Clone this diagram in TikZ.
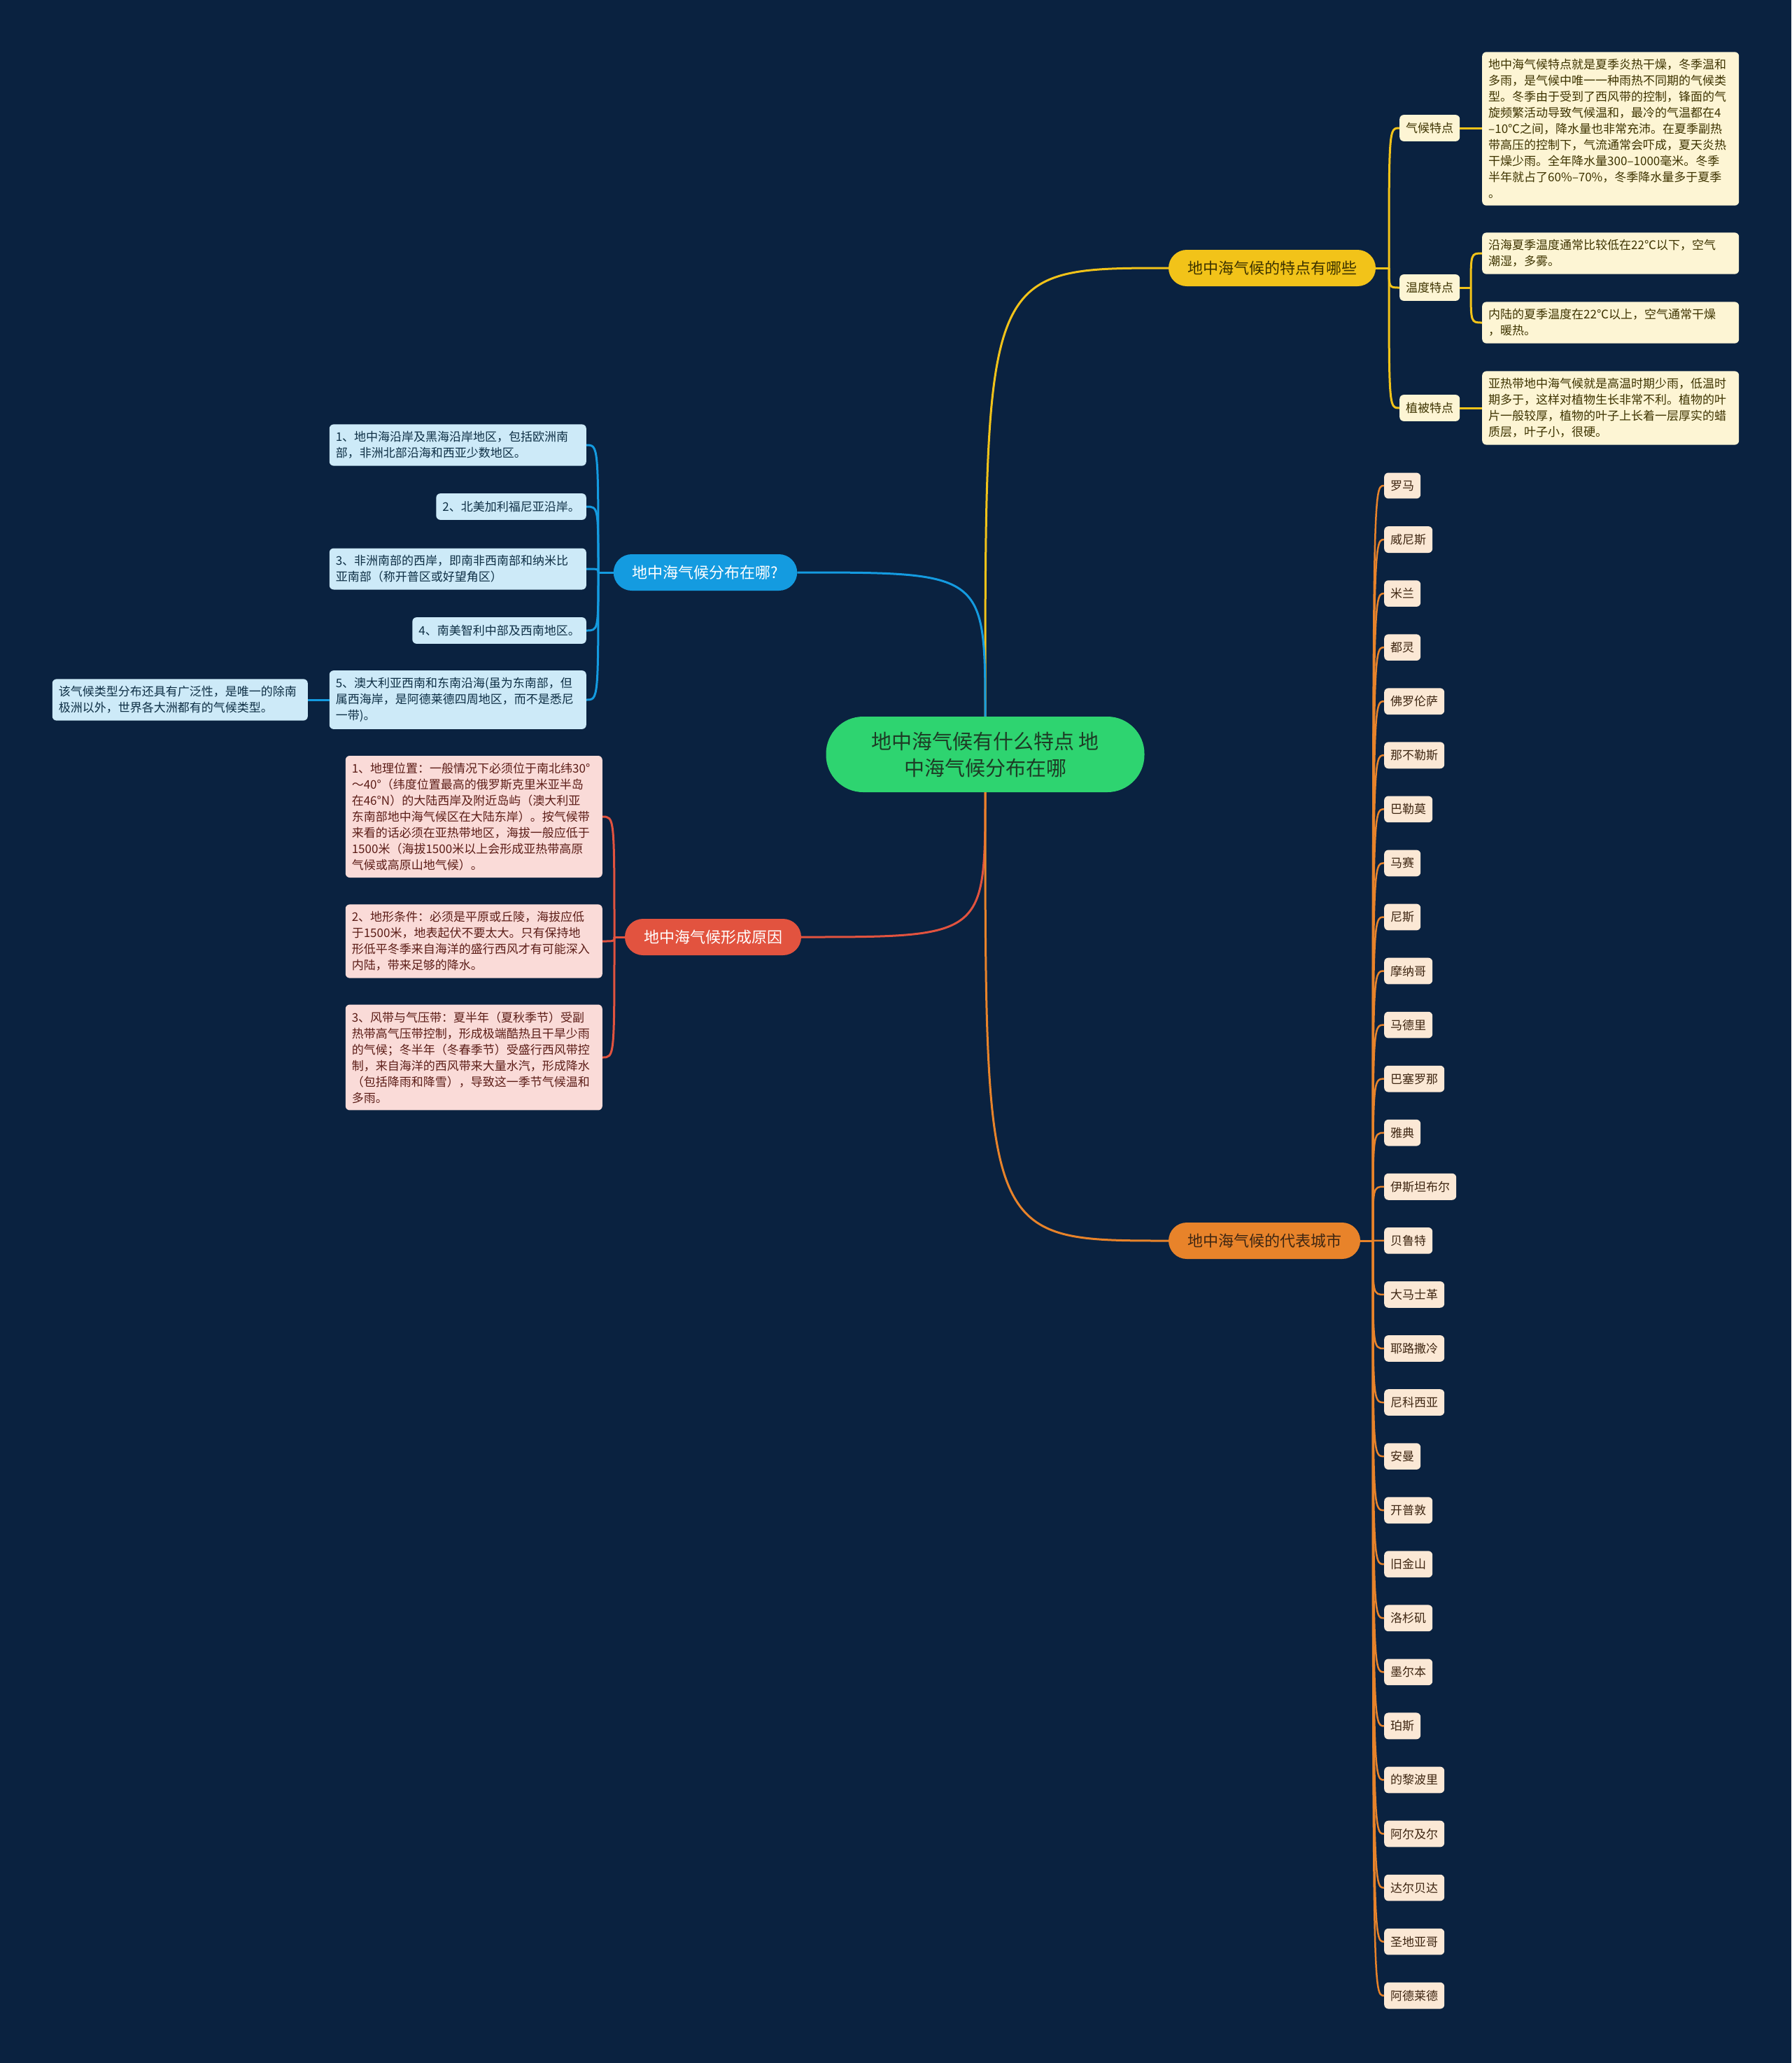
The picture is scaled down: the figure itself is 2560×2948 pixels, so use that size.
\documentclass[tikz,border=0pt]{standalone}
\usepackage{fontspec}
\usepackage{tikz}
\newfontfamily\cjk{Noto Sans CJK SC}
\definecolor{bg}{HTML}{0A2240}
\definecolor{rootbg}{HTML}{2ED470}
\definecolor{rootfg}{HTML}{1D3B25}
\definecolor{ylw}{HTML}{F2C319}
\definecolor{ylwlight}{HTML}{FDF5D4}
\definecolor{ylwtext}{HTML}{3D3300}
\definecolor{blu}{HTML}{149BE0}
\definecolor{blulight}{HTML}{CDEAF8}
\definecolor{blutext}{HTML}{0E2F45}
\definecolor{rd}{HTML}{E2533F}
\definecolor{rdlight}{HTML}{FADBD8}
\definecolor{rdtext}{HTML}{5C1D17}
\definecolor{org}{HTML}{E8832A}
\definecolor{orglight}{HTML}{FBE8D5}
\definecolor{orgtext}{HTML}{3E2612}

\begin{document}
\begin{tikzpicture}[x=1pt,y=-1pt,
  pill/.style={rounded corners=26pt,minimum height=52pt,inner xsep=27pt,font={\cjk\fontsize{22}{28}\selectfont}},
  leaf/.style={rounded corners=6pt,inner xsep=9pt,inner ysep=10pt,align=left,font={\cjk\fontsize{17}{23}\selectfont}},
  wide/.style={leaf,text width=349pt},
  tag/.style={leaf,inner ysep=11pt},
  link/.style={line width=3pt}]
\fill[bg] (0,0) rectangle (2560,2948);
\useasboundingbox (0,0) rectangle (2560,2948);

\node[fill=rootbg,text=rootfg,rounded corners=53pt,minimum width=455pt,minimum height=108pt,align=center,font={\cjk\fontsize{29}{38}\selectfont}] (root) at (1408,1078) {地中海气候有什么特点 地\\中海气候分布在哪};

% main branches
\node[pill,fill=ylw,text=ylwtext] (feat) at (1818,383) {地中海气候的特点有哪些};
\node[pill,fill=blu,text=white] (where) at (1008,818) {地中海气候分布在哪?};
\node[pill,fill=rd,text=white] (cause) at (1019,1339) {地中海气候形成原因};
\node[pill,fill=org,text=orgtext] (city) at (1807,1773) {地中海气候的代表城市};

\draw[link,ylw] (root.north) .. controls (root.north |- feat.west) .. (feat.west);
\draw[link,blu] (root.north) .. controls (root.north |- where.east) .. (where.east);
\draw[link,rd] (root.south) .. controls (root.south |- cause.east) .. (cause.east);
\draw[link,org] (root.south) .. controls (root.south |- city.west) .. (city.west);

% features
\node[tag,fill=ylwlight,text=ylwtext,anchor=west] (fclim) at (2000,183) {气候特点};
\node[tag,fill=ylwlight,text=ylwtext,anchor=west] (ftemp) at (2000,411) {温度特点};
\node[tag,fill=ylwlight,text=ylwtext,anchor=west] (fveg) at (2000,583) {植被特点};
\node[wide,fill=ylwlight,text=ylwtext,anchor=west] (fclimtxt) at (2118,184) {地中海气候特点就是夏季炎热干燥，冬季温和\\多雨，是气候中唯一一种雨热不同期的气候类\\型。冬季由于受到了西风带的控制，锋面的气\\旋频繁活动导致气候温和，最冷的气温都在4\\–10℃之间，降水量也非常充沛。在夏季副热\\带高压的控制下，气流通常会吓成，夏天炎热\\干燥少雨。全年降水量300–1000毫米。冬季\\半年就占了60\%–70\%，冬季降水量多于夏季\\。};
\node[wide,fill=ylwlight,text=ylwtext,anchor=west] (fcoast) at (2118,362) {沿海夏季温度通常比较低在22℃以下，空气\\潮湿，多雾。};
\node[wide,fill=ylwlight,text=ylwtext,anchor=west] (finland) at (2118,461) {内陆的夏季温度在22℃以上，空气通常干燥\\，暖热。};
\node[wide,fill=ylwlight,text=ylwtext,anchor=west] (fvegtxt) at (2118,583) {亚热带地中海气候就是高温时期少雨，低温时\\期多于，这样对植物生长非常不利。植物的叶\\片一般较厚，植物的叶子上长着一层厚实的蜡\\质层，叶子小，很硬。};

\coordinate (fj) at (1985,383);
\coordinate (tj) at (2102,411);
\draw[link,ylw] (feat.east) -- (fj);
\foreach \n in {fclim,ftemp,fveg}{\draw[link,ylw] (fj) .. controls (fj |- \n.west) .. (\n.west);}
\draw[link,ylw] (fclim.east) -- (fclimtxt.west |- fclim.east);
\draw[link,ylw] (fveg.east) -- (fvegtxt.west);
\draw[link,ylw] (ftemp.east) -- (tj);
\foreach \n in {fcoast,finland}{\draw[link,ylw] (tj) .. controls (tj |- \n.west) .. (\n.west);}

% distribution
\node[wide,fill=blulight,text=blutext,anchor=east] (w1) at (838,636) {1、地中海沿岸及黑海沿岸地区，包括欧洲南\\部，非洲北部沿海和西亚少数地区。};
\node[tag,fill=blulight,text=blutext,anchor=east] (w2) at (838,724) {2、北美加利福尼亚沿岸。};
\node[wide,fill=blulight,text=blutext,anchor=east] (w3) at (838,813) {3、非洲南部的西岸，即南非西南部和纳米比\\亚南部（称开普区或好望角区）};
\node[tag,fill=blulight,text=blutext,anchor=east] (w4) at (838,901) {4、南美智利中部及西南地区。};
\node[wide,fill=blulight,text=blutext,anchor=east] (w5) at (838,1000) {5、澳大利亚西南和东南沿海(虽为东南部，但\\属西海岸，是阿德莱德四周地区，而不是悉尼\\一带)。};
\node[leaf,text width=347pt,fill=blulight,text=blutext,anchor=east] (w6) at (440,1000) {该气候类型分布还具有广泛性，是唯一的除南\\极洲以外，世界各大洲都有的气候类型。};

\coordinate (wj) at (855,818);
\draw[link,blu] (where.west) -- (wj);
\foreach \n in {w1,w2,w3,w4,w5}{\draw[link,blu] (wj) .. controls (wj |- \n.east) .. (\n.east);}
\draw[link,blu] (w5.west) -- (w6.east);

% causes
\node[wide,fill=rdlight,text=rdtext,anchor=east] (c1) at (861,1167) {1、地理位置：一般情况下必须位于南北纬30°\\～40°（纬度位置最高的俄罗斯克里米亚半岛\\在46°N）的大陆西岸及附近岛屿（澳大利亚\\东南部地中海气候区在大陆东岸）。按气候带\\来看的话必须在亚热带地区，海拔一般应低于\\1500米（海拔1500米以上会形成亚热带高原\\气候或高原山地气候）。};
\node[wide,fill=rdlight,text=rdtext,anchor=east] (c2) at (861,1345) {2、地形条件：必须是平原或丘陵，海拔应低\\于1500米，地表起伏不要太大。只有保持地\\形低平冬季来自海洋的盛行西风才有可能深入\\内陆，带来足够的降水。};
\node[wide,fill=rdlight,text=rdtext,anchor=east] (c3) at (861,1511) {3、风带与气压带：夏半年（夏秋季节）受副\\热带高气压带控制，形成极端酷热且干旱少雨\\的气候；冬半年（冬春季节）受盛行西风带控\\制，来自海洋的西风带来大量水汽，形成降水\\（包括降雨和降雪），导致这一季节气候温和\\多雨。};

\coordinate (cj) at (878,1339);
\draw[link,rd] (cause.west) -- (cj);
\foreach \n in {c1,c2,c3}{\draw[link,rd] (cj) .. controls (cj |- \n.east) .. (\n.east);}

% cities
\coordinate (oj) at (1962,1773);
\draw[link,org] (city.east) -- (oj);
\foreach \name [count=\i from 0] in {罗马,威尼斯,米兰,都灵,佛罗伦萨,那不勒斯,巴勒莫,马赛,尼斯,摩纳哥,马德里,巴塞罗那,雅典,伊斯坦布尔,贝鲁特,大马士革,耶路撒冷,尼科西亚,安曼,开普敦,旧金山,洛杉矶,墨尔本,珀斯,的黎波里,阿尔及尔,达尔贝达,圣地亚哥,阿德莱德}{
  \node[tag,fill=orglight,text=orgtext,anchor=west] (t\i) at (1978,{694+77.06*\i}) {\name};
  \draw[line width=2.5pt,org] (oj) .. controls (oj |- t\i.west) .. (t\i.west);
}
\end{tikzpicture}
\end{document}
